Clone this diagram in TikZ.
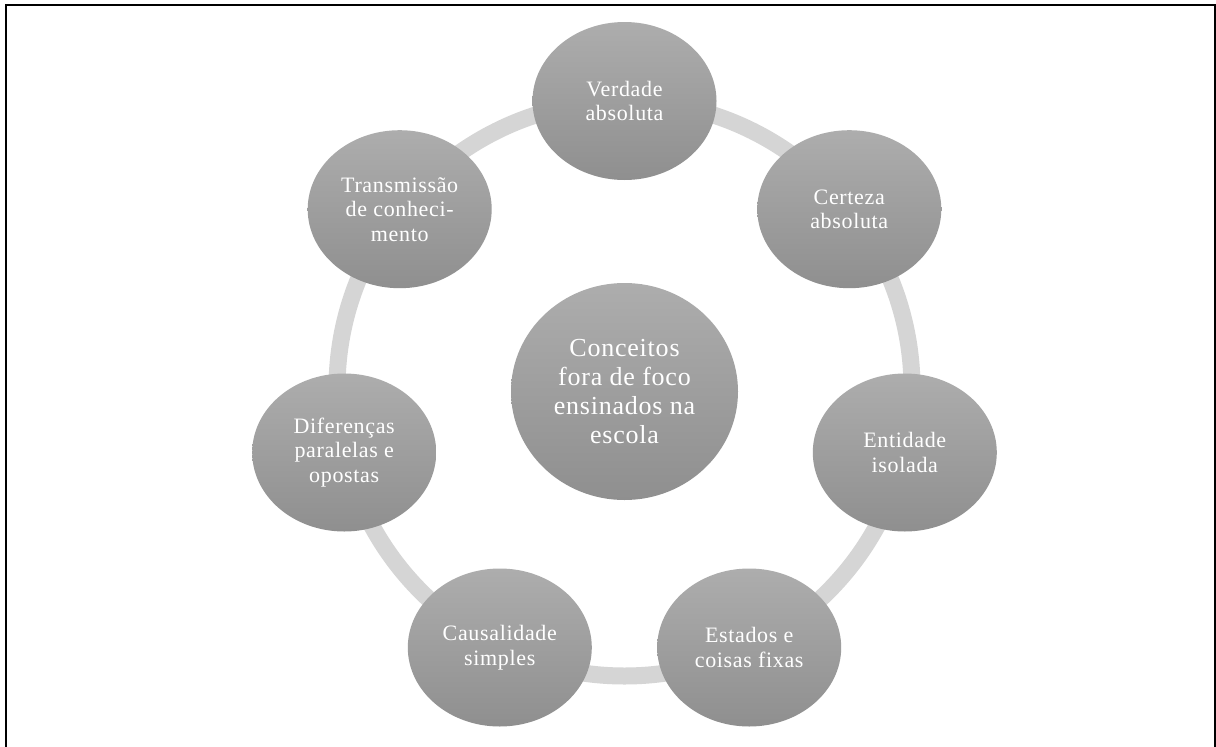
\documentclass[tikz,border=0pt]{standalone}
\usepackage{fontspec}
\setmainfont{Liberation Serif}
\newfontfamily\nodefont[LetterSpace=3]{Liberation Serif}
\usetikzlibrary{shapes.geometric}
\definecolor{ringgray}{HTML}{D5D5D5}
\definecolor{ctop}{HTML}{ADADAD}
\definecolor{cbot}{HTML}{8F8F8F}
\begin{document}
\begin{tikzpicture}[x=1pt,y=-1pt,
  outer/.style={ellipse, minimum width=184pt, minimum height=158pt, inner sep=0pt,
    top color=ctop, bottom color=cbot, draw=none, text=white, align=center,
    font=\nodefont\fontsize{22}{24.5}\selectfont},
  hub/.style={ellipse, minimum width=227pt, minimum height=217pt, inner sep=0pt,
    top color=ctop, bottom color=cbot, draw=none, text=white, align=center,
    font=\nodefont\fontsize{26}{29}\selectfont},
  ring/.style={draw=ringgray, line width=17pt},
  frame/.style={draw=black, line width=2.5pt}]
\useasboundingbox (0,0) rectangle (1216,747);
\fill[white] (0,0) rectangle (1216,747);
\draw[frame] (6,747) -- (6,5) -- (1215,5) -- (1215,747);
\coordinate (O) at (624.5,388.5);
\draw[ring] (O) circle[radius=287.5pt];
\node[hub] (c) at (624.5,391.5) {Conceitos\\fora de foco\\ensinados na\\escola};
\node[outer] (n1) at (624.5,101) {Verdade\\absoluta};
\node[outer] (n2) at (849.3,209.2) {Certeza\\absoluta};
\node[outer] (n3) at (904.8,452.5) {Entidade\\isolada};
\node[outer] (n4) at (749.2,647.5) {Estados e\\coisas fixas};
\node[outer] (n5) at (499.8,647.5) {Causalidade\\simples};
\node[outer] (n6) at (344.2,452.5) {Diferenças\\paralelas e\\opostas};
\node[outer] (n7) at (399.7,209.2) {Transmissão\\de conheci-\\mento};
\end{tikzpicture}
\end{document}
